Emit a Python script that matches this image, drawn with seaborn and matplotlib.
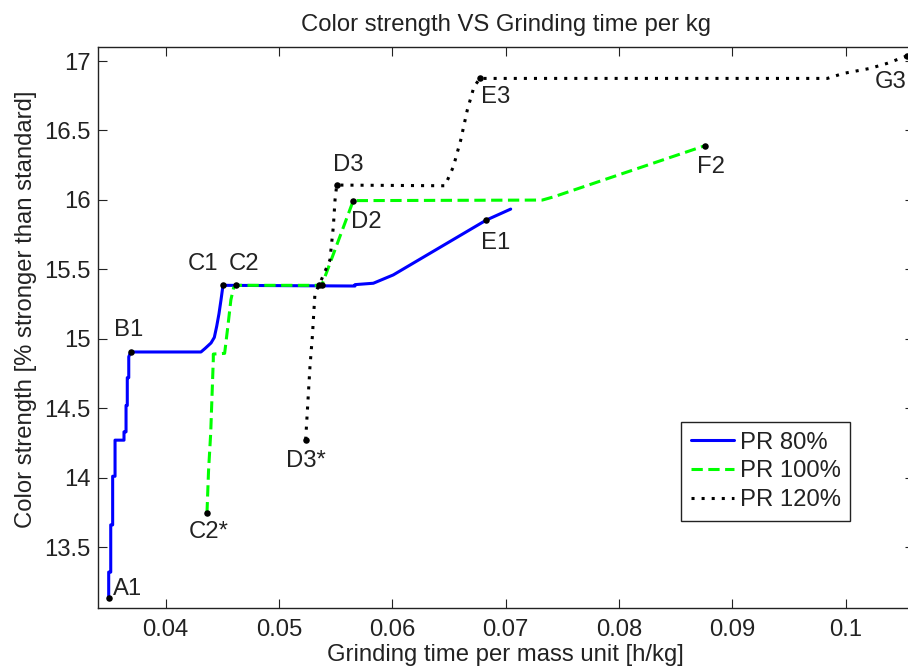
import matplotlib
matplotlib.use("Agg")
import matplotlib.pyplot as plt
import pandas as pd
import seaborn as sns

# ---- data -------------------------------------------------------------
series_names = ["PR 80%", "PR 100%", "PR 120%"]

time_pr80 = [0.03497, 0.03497, 0.03515, 0.03515, 0.03532, 0.03532, 0.03553, 0.03553,
             0.03632, 0.03632, 0.03650, 0.03650, 0.03661, 0.03661, 0.03674, 0.03674,
             0.03691, 0.04311, 0.04347, 0.04400, 0.04429, 0.04450, 0.04470, 0.04488,
             0.04503, 0.04508, 0.05670, 0.05670, 0.05832, 0.06008, 0.06829, 0.07044]
strength_pr80 = [13.13, 13.32, 13.32, 13.66, 13.66, 14.01, 14.01, 14.27,
                 14.27, 14.33, 14.33, 14.52, 14.52, 14.72, 14.72, 14.87,
                 14.905, 14.905, 14.93, 14.97, 15.01, 15.09, 15.18, 15.28,
                 15.37, 15.385, 15.38, 15.39, 15.40, 15.46, 15.855, 15.934]

time_pr100 = [0.04364, 0.04378, 0.04397, 0.04420, 0.04420, 0.04520, 0.04528, 0.04550,
              0.04575, 0.04600, 0.04618, 0.05377, 0.05655, 0.07323, 0.07426, 0.08756]
strength_pr100 = [13.743, 14.05, 14.32, 14.85, 14.89, 14.895, 14.95, 15.10,
                  15.28, 15.37, 15.385, 15.385, 15.995, 15.999, 16.023, 16.390]

time_pr120 = [0.05235, 0.05273, 0.05294, 0.05317, 0.05355, 0.05449, 0.05479, 0.05494,
              0.05509, 0.06464, 0.06538, 0.06603, 0.06661, 0.06720, 0.06773, 0.09838,
              0.09979, 0.10214, 0.10364, 0.10537]
strength_pr120 = [14.273, 14.801, 15.017, 15.327, 15.39, 15.567, 15.807, 16.0,
                  16.107, 16.102, 16.239, 16.431, 16.647, 16.815, 16.875, 16.875,
                  16.911, 16.947, 16.983, 17.036]

# marked points: name, series, index of the vertex in that series
point_names = ["A1", "B1", "C1", "E1",
               "C2*", "C2", "", "D2", "F2",
               "D3*", "", "D3", "E3", "G3"]
point_series = ["PR 80%", "PR 80%", "PR 80%", "PR 80%",
                "PR 100%", "PR 100%", "PR 100%", "PR 100%", "PR 100%",
                "PR 120%", "PR 120%", "PR 120%", "PR 120%", "PR 120%"]
point_index = [0, 16, 25, 30,
               0, 10, 11, 12, 15,
               0, 4, 8, 14, 19]

x_ticks = [0.04, 0.05, 0.06, 0.07, 0.08, 0.09, 0.1]
x_tick_labels = ["0.04", "0.05", "0.06", "0.07", "0.08", "0.09", "0.1"]
y_ticks = [13.5, 14, 14.5, 15, 15.5, 16, 16.5, 17]
y_tick_labels = ["13.5", "14", "14.5", "15", "15.5", "16", "16.5", "17"]

# ---- style ------------------------------------------------------------
sns.set_theme(style="ticks", rc={
    "xtick.direction": "in", "ytick.direction": "in",
    "xtick.top": True, "ytick.right": True,
    "xtick.major.size": 6.5, "ytick.major.size": 6.5,
    "xtick.major.width": 0.8, "ytick.major.width": 0.8,
    "axes.linewidth": 1.0,
    "axes.edgecolor": "#222222",
    "xtick.color": "#222222", "ytick.color": "#222222",
    "text.color": "#222222", "axes.labelcolor": "#222222",
})
plt.rcParams["font.family"] = ["Liberation Sans", "DejaVu Sans"]
FS = 17.2

line_styles = {
    "PR 80%": dict(color="#0000ff", linestyle="-"),
    "PR 100%": dict(color="#00ff00", linestyle=(0, (3.7, 1.8))),
    "PR 120%": dict(color="#000000", linestyle=(0, (1.0, 2.3))),
}

frames = {
    "PR 80%": pd.DataFrame({"t": time_pr80, "s": strength_pr80}),
    "PR 100%": pd.DataFrame({"t": time_pr100, "s": strength_pr100}),
    "PR 120%": pd.DataFrame({"t": time_pr120, "s": strength_pr120}),
}

fig = plt.figure(figsize=(9.08, 6.66), dpi=100)
ax = fig.add_axes([0.1076, 0.0866, 0.8987, 0.8432])

for name in series_names:
    sns.lineplot(data=frames[name], x="t", y="s", sort=False, estimator=None,
                 lw=2.2, label=name, ax=ax, **line_styles[name])

# point markers and their labels
pts = pd.DataFrame({
    "name": point_names,
    "t": [frames[s]["t"].iloc[i] for s, i in zip(point_series, point_index)],
    "s": [frames[s]["s"].iloc[i] for s, i in zip(point_series, point_index)],
})
sns.scatterplot(data=pts, x="t", y="s", color="black", s=22, linewidth=0,
                zorder=5, legend=False, ax=ax)

# label offsets in pixels (dx, dy) from each marked point
label_offsets = {
    "A1": (4, 9, "left"), "B1": (-2, 22, "center"), "C1": (-20, 21, "center"),
    "C2": (8, 21, "center"), "C2*": (2, -19, "center"), "D3*": (0, -21, "center"),
    "D3": (12, 20, "center"), "D2": (13, -21, "center"), "E1": (9, -23, "center"),
    "E3": (16, -19, "center"), "F2": (6, -21, "center"), "G3": (-16, -26, "center"),
}
for _, row in pts.iterrows():
    if not row["name"]:
        continue
    dx, dy, ha = label_offsets[row["name"]]
    ax.annotate(row["name"], (row["t"], row["s"]), xytext=(dx, dy),
                textcoords="offset pixels", ha=ha, va="center",
                fontsize=FS, annotation_clip=False)

ax.set_xlim(0.034, 0.106)
ax.set_ylim(13.059, 17.103)
ax.set_xticks(x_ticks, x_tick_labels)
ax.set_yticks(y_ticks, y_tick_labels)
ax.tick_params(axis="x", labelsize=FS, pad=7.5)
ax.tick_params(axis="y", labelsize=FS, pad=5.0)

ax.set_title("Color strength VS Grinding time per kg", fontsize=FS, pad=11)
ax.set_xlabel("Grinding time per mass unit [h/kg]", fontsize=FS, labelpad=2.0)
ax.set_ylabel("Color strength [% stronger than standard]", fontsize=FS)
ax.yaxis.set_label_coords(-0.0744, 0.533)

leg = ax.legend(loc="upper left", bbox_to_anchor=(0.7149, 0.3317), borderaxespad=0,
                fontsize=FS, frameon=True, fancybox=False, framealpha=1,
                edgecolor="#222222", handlelength=1.8, handletextpad=0.25,
                labelspacing=0.28, borderpad=0.4)
leg.get_frame().set_linewidth(1.0)

fig.savefig("out.png", dpi=100)
